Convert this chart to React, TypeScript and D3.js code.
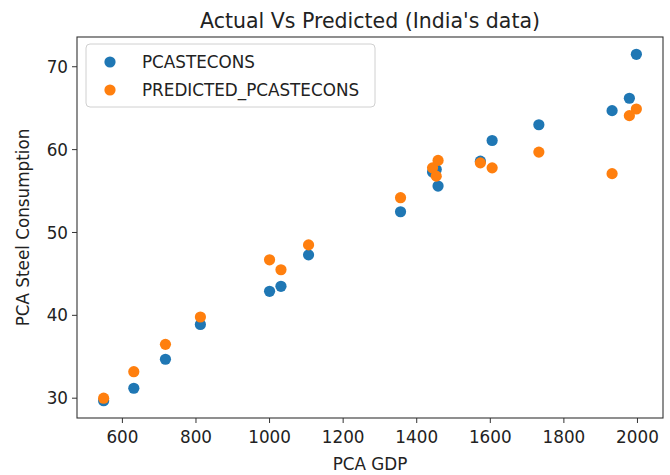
import React from "react";
import * as d3 from "d3";

// PCA GDP (x) shared by both series
const gdp = [549, 631, 717, 812, 1000, 1031, 1106, 1356, 1443, 1458, 1453, 1573, 1605, 1732, 1931, 1978, 1997];
// Actual per-capita steel consumption
const actual = [29.7, 31.2, 34.7, 38.9, 42.9, 43.5, 47.3, 52.5, 57.3, 55.6, 57.6, 58.6, 61.1, 63.0, 64.7, 66.2, 71.5];
// Model predictions
const predicted = [30.0, 33.2, 36.5, 39.8, 46.7, 45.5, 48.5, 54.2, 57.8, 58.7, 56.8, 58.4, 57.8, 59.7, 57.1, 64.1, 64.9];

const xTicks = [600, 800, 1000, 1200, 1400, 1600, 1800, 2000];
const yTicks = [30, 40, 50, 60, 70];
const seriesNames = ["PCASTECONS", "PREDICTED_PCASTECONS"];
const seriesColors = ["#1f77b4", "#ff7f0e"];

const W = 670;
const H = 475;
const M = { left: 77, right: 663, top: 37, bottom: 418 };
const FONT = "DejaVu Sans, sans-serif";
const FS = 16.8;

function padded(vals: number[]): [number, number] {
  const [lo, hi] = d3.extent(vals) as [number, number];
  const p = (hi - lo) * 0.05;
  return [lo - p, hi + p];
}

export default function App() {
  const x = d3.scaleLinear().domain(padded(gdp)).range([M.left, M.right]);
  const y = d3.scaleLinear().domain(padded([...actual, ...predicted])).range([M.bottom, M.top]);
  const series = [actual, predicted];
  const r = 5.6;

  return (
    <svg
      width={W}
      height={H}
      style={{ position: "absolute", left: 0, top: 0, background: "#fff" }}
      fontFamily={FONT}
    >
      <rect x={0} y={0} width={W} height={H} fill="#fff" />
      <text x={(M.left + M.right) / 2} y={28} textAnchor="middle" fontSize={20.5} fill="#222">
        Actual Vs Predicted (India's data)
      </text>

      {series.map((vals, si) => (
        <g key={si} fill={seriesColors[si]}>
          {vals.map((v, i) => (
            <circle key={i} cx={x(gdp[i])} cy={y(v)} r={r} />
          ))}
        </g>
      ))}

      <rect
        x={M.left}
        y={M.top}
        width={M.right - M.left}
        height={M.bottom - M.top}
        fill="none"
        stroke="#333"
        strokeWidth={1.1}
      />

      {xTicks.map((t) => (
        <g key={t} transform={`translate(${x(t)},${M.bottom})`}>
          <line y1={0} y2={5} stroke="#333" strokeWidth={1} />
          <text y={25} textAnchor="middle" fontSize={FS} fill="#222">
            {t}
          </text>
        </g>
      ))}
      {yTicks.map((t) => (
        <g key={t} transform={`translate(${M.left},${y(t)})`}>
          <line x1={-5} x2={0} stroke="#333" strokeWidth={1} />
          <text x={-9} dy="0.36em" textAnchor="end" fontSize={FS} fill="#222">
            {t}
          </text>
        </g>
      ))}

      <text x={(M.left + M.right) / 2} y={470} textAnchor="middle" fontSize={FS} fill="#222">
        PCA GDP
      </text>
      <text
        transform={`translate(29,${(M.top + M.bottom) / 2}) rotate(-90)`}
        textAnchor="middle"
        fontSize={FS}
        fill="#222"
      >
        PCA Steel Consumption
      </text>

      <g>
        <rect x={86} y={44} width={289} height={63} rx={4} fill="#fff" fillOpacity={0.8} stroke="#d0d0d0" />
        {seriesNames.map((n, i) => (
          <g key={n} transform={`translate(0,${62 + i * 28})`}>
            <circle cx={110} cy={0} r={r} fill={seriesColors[i]} />
            <text x={142} dy="0.36em" fontSize={FS} fill="#222">
              {n}
            </text>
          </g>
        ))}
      </g>
    </svg>
  );
}
